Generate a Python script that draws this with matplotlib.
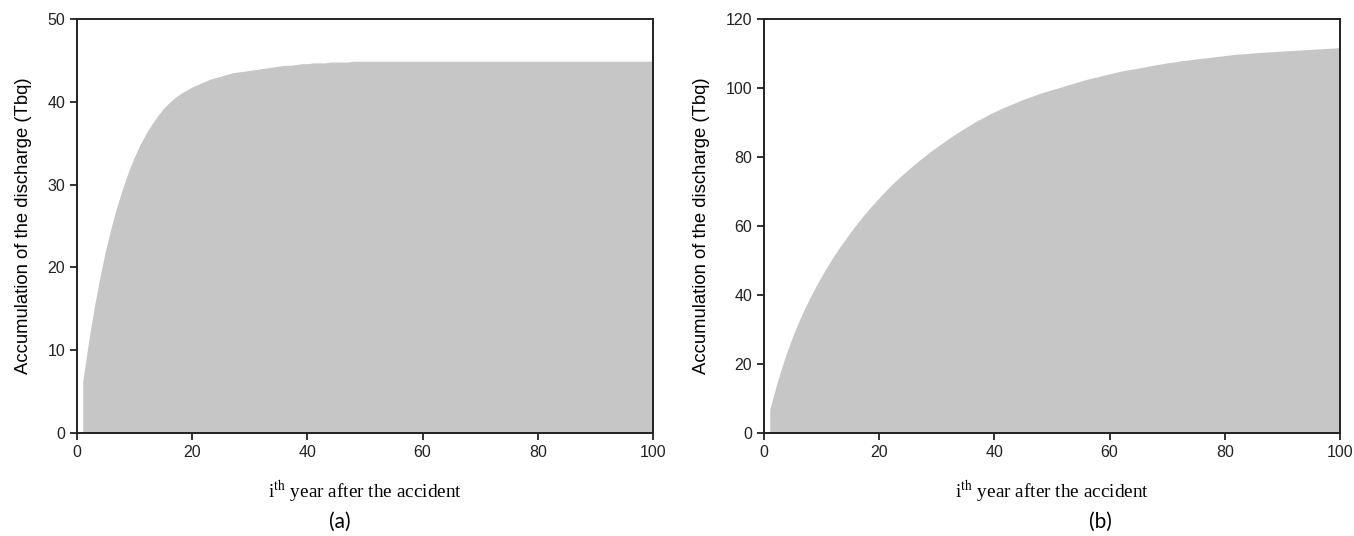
import numpy as np
import matplotlib
matplotlib.use('Agg')
import matplotlib.pyplot as plt

# years after the accident
years = list(range(1, 101))

# (a) accumulated discharge, Tbq
acc_a = [6.2, 11.0, 15.2, 18.9, 22.2, 25.0, 27.5, 29.7, 31.7, 33.4,
         34.9, 36.2, 37.3, 38.3, 39.2, 39.9, 40.5, 41.0, 41.4, 41.8,
         42.1, 42.4, 42.7, 42.9, 43.1, 43.3, 43.5, 43.6, 43.7, 43.8,
         43.9, 44.0, 44.1, 44.2, 44.3, 44.4, 44.4, 44.5, 44.6, 44.6,
         44.7, 44.7, 44.7, 44.8, 44.8, 44.8, 44.8, 44.9, 44.9, 44.9,
         44.9, 44.9, 44.9, 44.9, 44.9, 44.9, 44.9, 44.9, 44.9, 44.9,
         44.9, 44.9, 44.9, 44.9, 44.9, 44.9, 44.9, 44.9, 44.9, 44.9,
         44.9, 44.9, 44.9, 44.9, 44.9, 44.9, 44.9, 44.9, 44.9, 44.9,
         44.9, 44.9, 44.9, 44.9, 44.9, 44.9, 44.9, 44.9, 44.9, 44.9,
         44.9, 44.9, 44.9, 44.9, 44.9, 44.9, 44.9, 44.9, 44.9, 44.9]

# (b) accumulated discharge, Tbq
acc_b = [6.9, 13.0, 18.6, 23.6, 28.1, 32.2, 35.9, 39.3, 42.5, 45.5,
         48.3, 51.0, 53.5, 55.9, 58.2, 60.4, 62.5, 64.5, 66.4, 68.2,
         70.0, 71.7, 73.3, 74.8, 76.3, 77.7, 79.1, 80.4, 81.7, 82.9,
         84.1, 85.3, 86.4, 87.5, 88.5, 89.5, 90.5, 91.4, 92.3, 93.1,
         93.9, 94.6, 95.3, 96.0, 96.7, 97.3, 97.9, 98.5, 99.0, 99.5,
         100.0, 100.5, 101.0, 101.5, 102.0, 102.5, 102.9, 103.3, 103.7, 104.1,
         104.5, 104.9, 105.2, 105.5, 105.8, 106.1, 106.4, 106.7, 107.0, 107.3,
         107.5, 107.8, 108.0, 108.2, 108.4, 108.6, 108.8, 109.0, 109.2, 109.4,
         109.6, 109.8, 109.9, 110.0, 110.2, 110.3, 110.4, 110.5, 110.6, 110.7,
         110.8, 110.9, 111.0, 111.1, 111.2, 111.3, 111.4, 111.5, 111.6, 111.7]

ylims = [50, 120]
yticks = [np.arange(0, 51, 10), np.arange(0, 121, 20)]
xticks = np.arange(0, 101, 20)
panel_tags = ['(a)', '(b)']

plt.rcParams['font.family'] = ['Liberation Sans', 'DejaVu Sans']
plt.rcParams['mathtext.fontset'] = 'stix'

fig = plt.figure(figsize=(13.54, 5.36), dpi=100)
W, H = 1354, 536
boxes = [(77, 19, 653, 433), (764, 19, 1340, 433)]
tag_x = [340, 1100]

for i, acc in enumerate([acc_a, acc_b]):
    x0, y0, x1, y1 = boxes[i]
    ax = fig.add_axes([x0 / W, 1 - y1 / H, (x1 - x0) / W, (y1 - y0) / H])
    ax.fill_between(years, 0, acc, color='#c6c6c6', linewidth=0)
    ax.set_xlim(0, 100)
    ax.set_ylim(0, ylims[i])
    ax.set_xticks(xticks)
    ax.set_yticks(yticks[i])
    for s in ax.spines.values():
        s.set_linewidth(1.4)
        s.set_color('#222222')
    ax.tick_params(direction='out', length=5, width=1.3, labelsize=11.5,
                   colors='#222222', top=False, right=False)
    ax.set_ylabel('Accumulation of the discharge (Tbq)', fontsize=13.3, labelpad=11)
    ax.set_xlabel(r'i$^{\mathrm{th}}$ year after the accident', family='Liberation Serif',
                  fontsize=13.9, labelpad=14)
    fig.text(tag_x[i] / W, 1 - 522 / H, panel_tags[i], family=['Lato', 'DejaVu Sans'],
             fontsize=15, ha='center', va='center')

fig.savefig('out.png', dpi=100)
